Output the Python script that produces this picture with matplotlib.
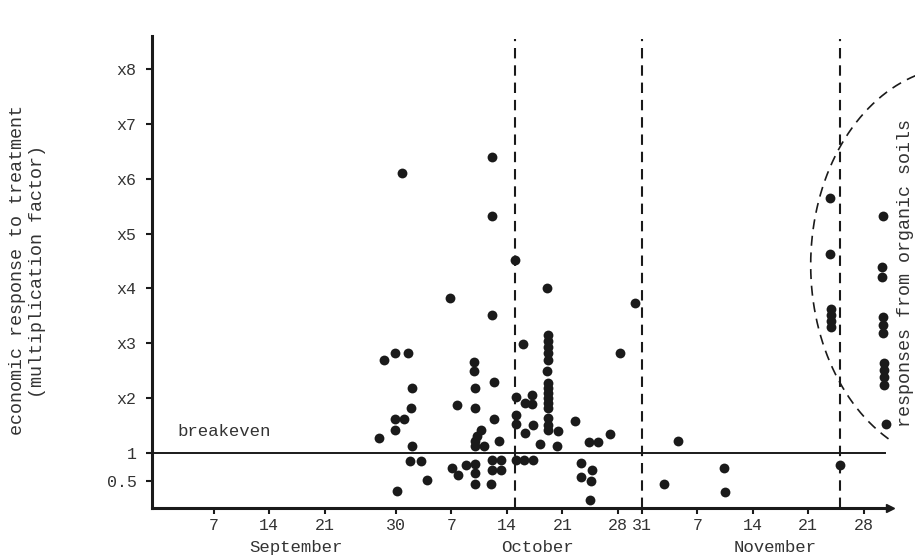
import numpy as np
import matplotlib
matplotlib.use("Agg")
from matplotlib import pyplot as plt

# days counted from 1 September (day 0), response as multiplication factor
days = [26.85, 27.5, 28.9, 30.5, 28.9, 30.0, 28.9, 31.0, 30.9, 31.0,
        30.75, 32.15, 32.9, 29.1, 29.75,
        35.8, 36.65, 36.05, 36.8, 37.8,
        38.8, 38.8, 38.95, 38.95, 39.7, 39.2, 38.95, 38.95, 40.1, 38.95,
        38.95, 38.95,
        41.1, 41.1, 41.1, 41.35, 41.35, 42.0, 41.1, 42.2, 41.1, 42.2, 40.95,
        44.0, 44.1, 44.1, 44.1, 44.1, 45.1, 46.25, 45.0, 45.25, 46.1, 46.1,
        45.25, 46.25, 47.15,
        48.0, 48.15, 48.15, 48.15, 48.15, 48.15, 48.0, 48.15, 48.15, 48.15,
        48.15, 48.15, 48.15, 48.15, 48.15, 48.15, 49.4, 49.3,
        51.55, 53.3, 54.45, 55.95, 52.3, 53.7, 52.3, 53.55, 53.45, 57.3, 59.1,
        64.55, 62.8, 70.35, 70.5, 84.95]
response = [1.28, 2.70, 2.83, 2.83, 1.62, 1.62, 1.42, 2.19, 1.82, 1.13,
            0.86, 0.86, 0.51, 0.31, 6.11,
            3.83, 1.88, 0.73, 0.60, 0.78,
            2.66, 2.50, 2.19, 1.82, 1.42, 1.31, 1.22, 1.13, 1.13, 0.80,
            0.64, 0.44,
            6.40, 5.32, 3.52, 2.30, 1.62, 1.22, 0.875, 0.875, 0.69, 0.69, 0.44,
            4.52, 2.02, 1.70, 1.53, 0.875, 0.875, 0.875, 2.99, 1.91, 2.06, 1.90,
            1.37, 1.51, 1.17,
            4.01, 3.15, 3.04, 2.93, 2.83, 2.70, 2.50, 2.28, 2.19, 2.10,
            2.01, 1.91, 1.82, 1.64, 1.51, 1.42, 1.40, 1.13,
            1.59, 1.20, 1.20, 1.35, 0.82, 0.69, 0.57, 0.49, 0.15, 2.83, 3.74,
            1.22, 0.44, 0.73, 0.29, 0.78]

# responses from organic soils
organic_days = [83.7, 83.7, 83.8, 83.8, 83.8, 83.8,
                90.4, 90.25, 90.25, 90.4, 90.4, 90.4, 90.6, 90.6, 90.6, 90.6, 90.75]
organic_response = [5.65, 4.63, 3.63, 3.52, 3.41, 3.30,
                    5.32, 4.39, 4.21, 3.48, 3.34, 3.19, 2.64, 2.52, 2.39, 2.24, 1.53]

ytick_vals = [0.5, 1, 2, 3, 4, 5, 6, 7, 8]
ytick_labels = ['0.5', '1', 'x2', 'x3', 'x4', 'x5', 'x6', 'x7', 'x8']
xtick_days = [6, 13, 20, 29, 36, 43, 50, 57, 60, 67, 74, 81, 88]
xtick_labels = ['7', '14', '21', '30', '7', '14', '21', '28', '31', '7', '14', '21', '28']
months = ['September', 'October', 'November']
month_centres = [16.4, 46.8, 76.8]
split_days = [44, 60, 85]  # 15 Oct, 31 Oct, 25 Nov

ink = '#1a1a1a'
txt = '#333333'
font = 'Liberation Mono'

W, H = 915, 557
fig = plt.figure(figsize=(W / 100, H / 100), dpi=100)
ax = fig.add_axes([152 / W, 49 / H, 738 / W, 472 / H])
ax.set_xlim(-1.76, 91.3)
ax.set_ylim(0, 8.6)

ax.scatter(days, response, s=50, color=ink, zorder=3, linewidths=0)
ax.scatter(organic_days, organic_response, s=50, color=ink, zorder=3,
           linewidths=0, clip_on=False)

# breakeven line
ax.axhline(1, xmin=0, xmax=0.993, color=ink, lw=1.4)
ax.text(1.39, 1.385, 'breakeven', family=font, fontsize=12.5, color=txt,
        va='center', ha='left')

# dashed date dividers
for d in split_days:
    ax.plot([d, d], [0, 8.55], color=ink, lw=1.5, dashes=(5, 3.3), zorder=2)

# dashed arc round the organic soil responses
t = np.radians(np.linspace(104, 243, 200))
ax.plot(100.1 + 18.8 * np.cos(t), 4.43 + 3.61 * np.sin(t), color=ink,
        lw=1.2, dashes=(6, 4), clip_on=False)

for s in ['top', 'right']:
    ax.spines[s].set_visible(False)
ax.spines['left'].set_linewidth(2.2)
ax.spines['bottom'].set_linewidth(2.2)
ax.spines['left'].set_color(ink)
ax.spines['bottom'].set_color(ink)
ax.plot(1, 0, marker='>', markersize=6, color=ink, transform=ax.transAxes,
        clip_on=False)

ax.set_yticks(ytick_vals)
ax.set_yticklabels(ytick_labels)
ax.set_xticks(xtick_days)
ax.set_xticklabels(xtick_labels)
ax.tick_params(axis='both', direction='out', length=4, width=1.5, color=ink,
               labelsize=12, labelcolor=txt)
ax.tick_params(axis='y', pad=7)
ax.tick_params(axis='x', pad=3)
for lab in ax.get_xticklabels() + ax.get_yticklabels():
    lab.set_family(font)

for name, c in zip(months, month_centres):
    ax.text(c, -0.083, name, transform=ax.get_xaxis_transform(), ha='center',
            va='center', family=font, fontsize=12.5, color=txt)

fig.text(18 / W, 0.515, 'economic response to treatment', rotation=90,
         ha='center', va='center', family=font, fontsize=13.2, color=txt)
fig.text(38 / W, 0.513, '(multiplication factor)', rotation=90,
         ha='center', va='center', family=font, fontsize=13.2, color=txt)
fig.text(906 / W, 0.51, 'responses from organic soils', rotation=90,
         ha='center', va='center', family=font, fontsize=13.2, color=txt)

fig.savefig('out.png', dpi=100, facecolor='white')
